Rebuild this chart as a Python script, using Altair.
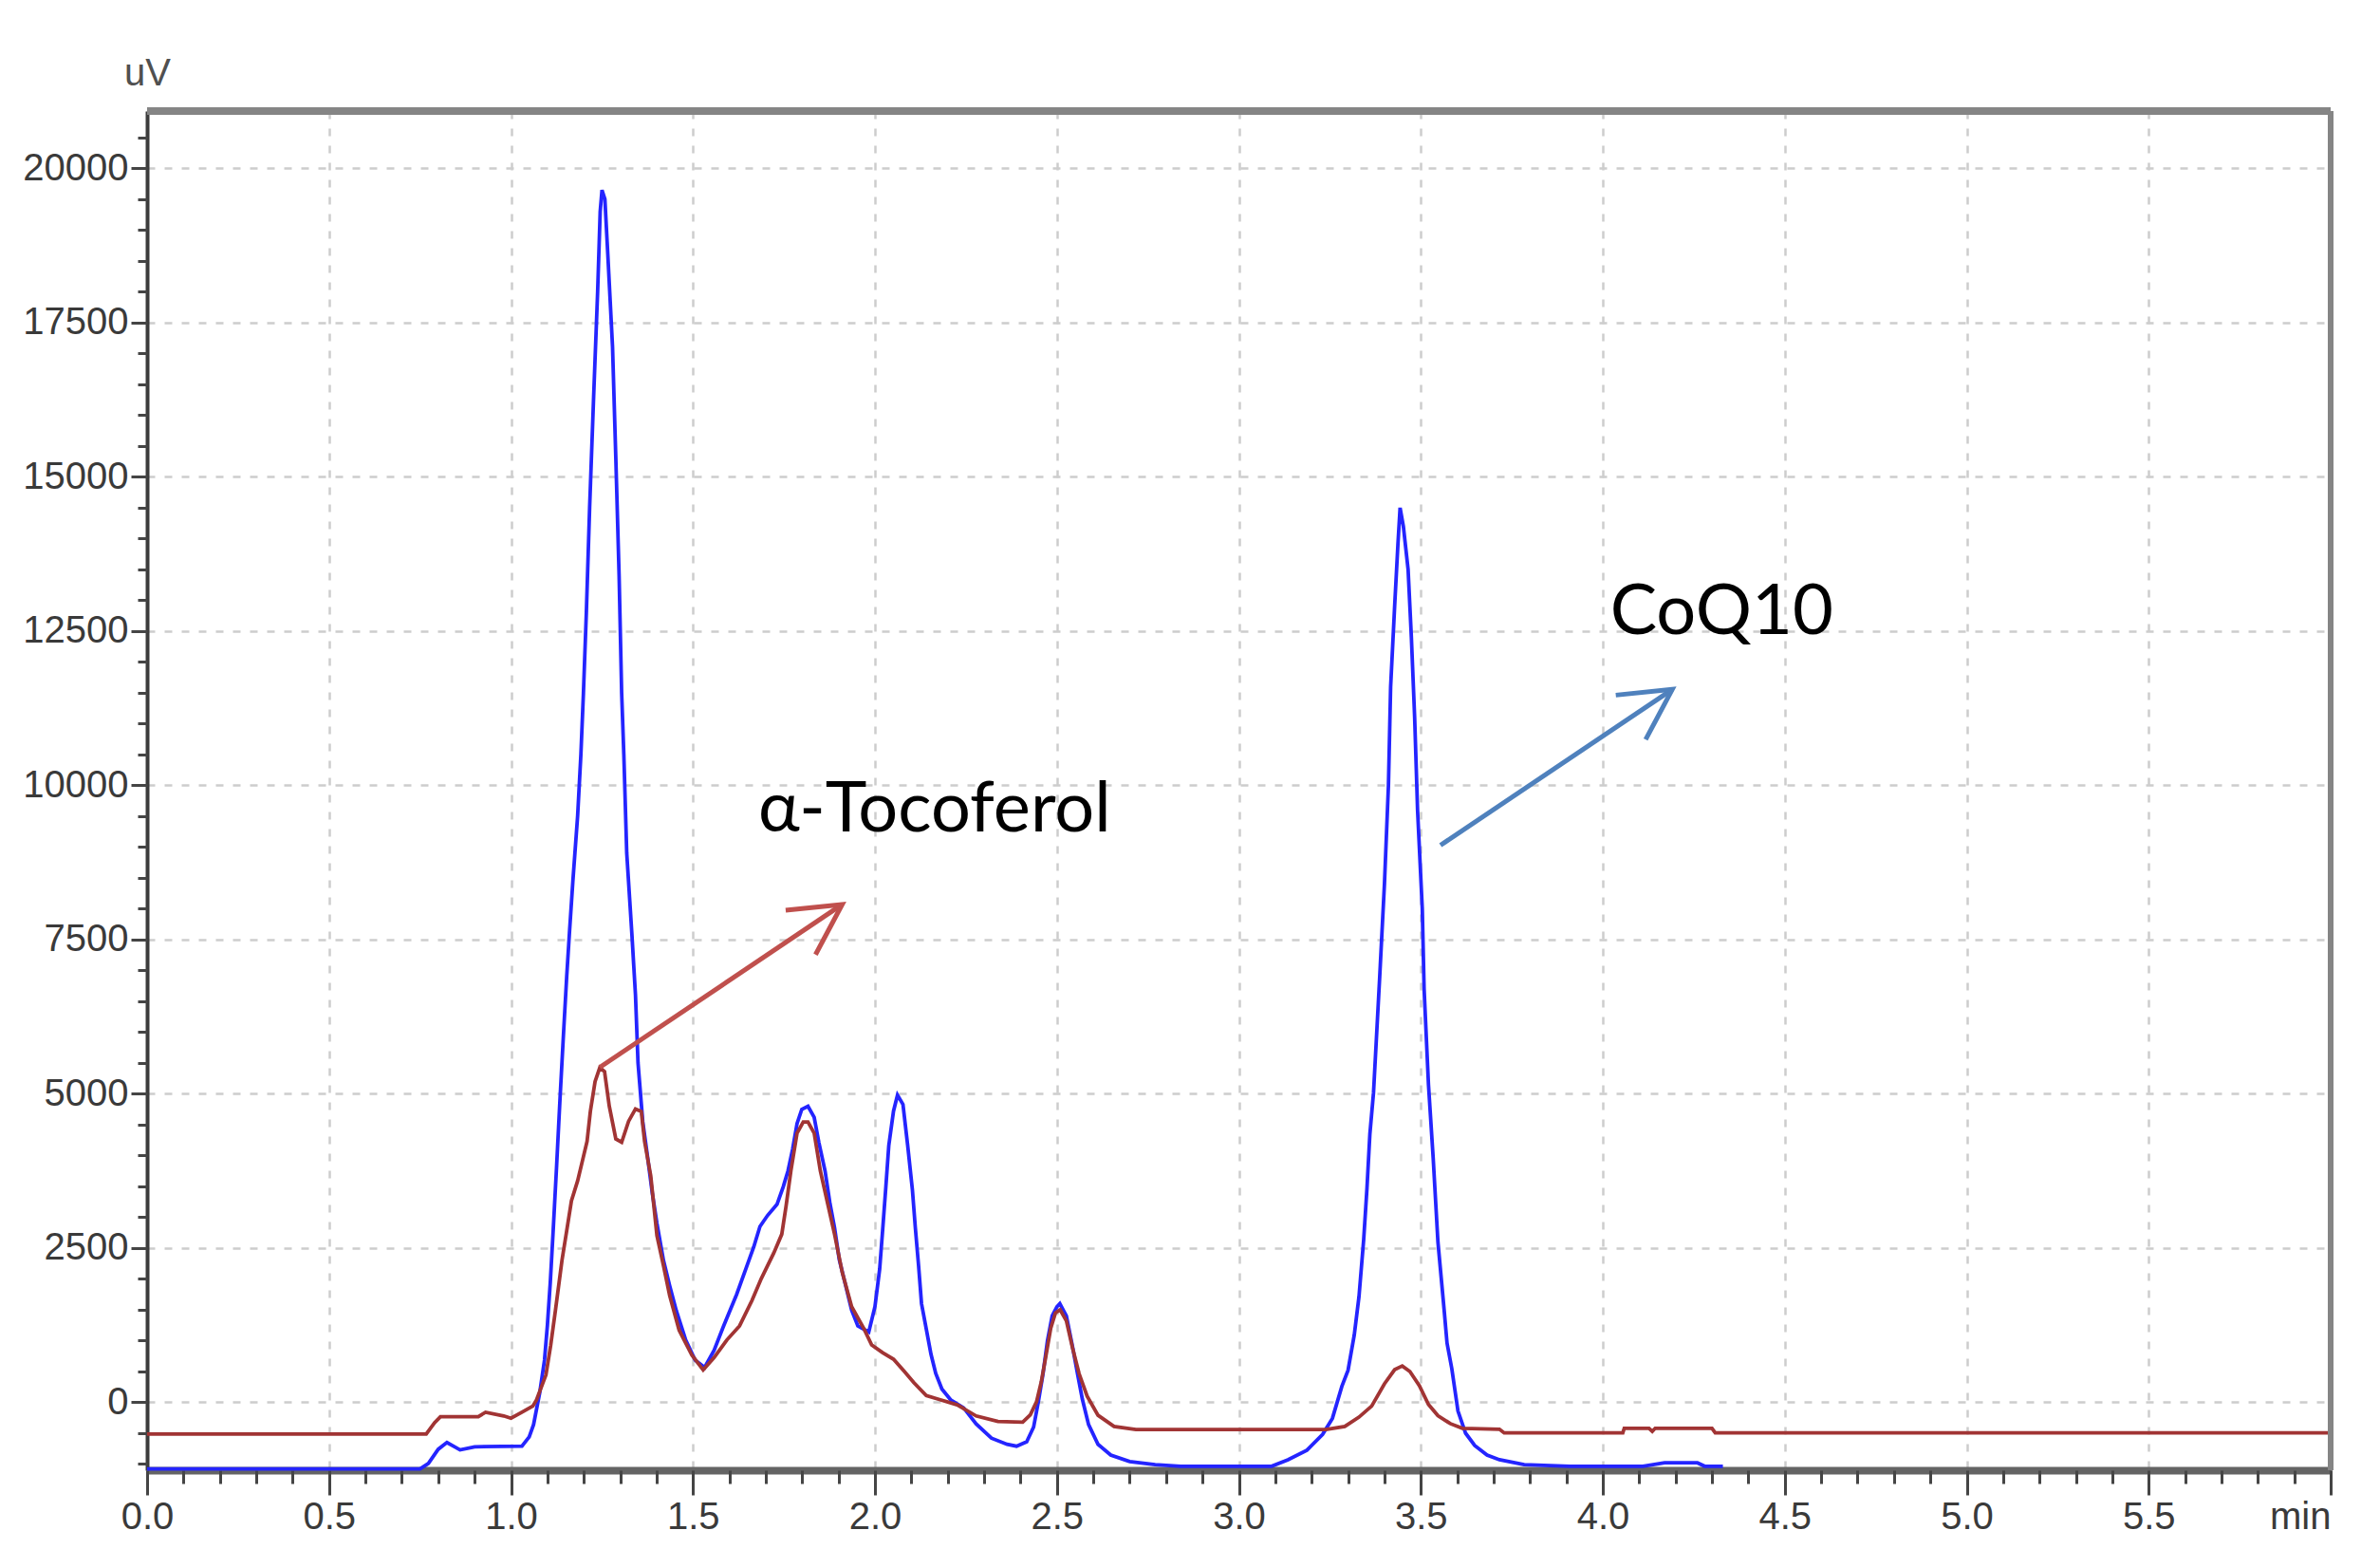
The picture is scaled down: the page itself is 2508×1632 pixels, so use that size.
import math
import altair as alt
import pandas as pd

# ---------------- data ----------------
blue_t = [0.0, 0.75, 0.773, 0.80, 0.824, 0.86, 0.90, 1.03, 1.05, 1.062, 1.079, 1.092, 1.100, 1.108,
          1.116, 1.125, 1.134, 1.144, 1.153, 1.161, 1.170, 1.183, 1.192, 1.199, 1.207, 1.216, 1.227,
          1.238, 1.245, 1.250, 1.258, 1.266, 1.279, 1.288, 1.297, 1.304, 1.310, 1.318, 1.332, 1.342,
          1.349, 1.362, 1.375, 1.388, 1.401, 1.419, 1.436, 1.454, 1.480, 1.506, 1.532, 1.558, 1.585,
          1.620, 1.645, 1.667, 1.684, 1.705, 1.731, 1.748, 1.761, 1.774, 1.786, 1.799, 1.816, 1.833,
          1.846, 1.863, 1.876, 1.889, 1.902, 1.919, 1.936, 1.953, 1.983, 2.000, 2.013, 2.021, 2.030,
          2.038, 2.051, 2.062, 2.077, 2.090, 2.103, 2.111, 2.120, 2.128, 2.141, 2.154, 2.167, 2.184,
          2.209, 2.244, 2.278, 2.320, 2.363, 2.389, 2.417, 2.436, 2.449, 2.462, 2.474, 2.487, 2.500,
          2.508, 2.526, 2.543, 2.557, 2.570, 2.587, 2.613, 2.648, 2.700, 2.770, 2.840, 3.090, 3.135,
          3.187, 3.230, 3.257, 3.283, 3.300, 3.317, 3.330, 3.343, 3.352, 3.360, 3.370, 3.387, 3.400,
          3.411, 3.417, 3.428, 3.437, 3.443, 3.452, 3.465, 3.474, 3.483, 3.491, 3.504, 3.509, 3.521,
          3.534, 3.547, 3.564, 3.572, 3.585, 3.602, 3.623, 3.648, 3.682, 3.716, 3.784, 3.910, 4.110,
          4.170, 4.260, 4.280, 4.330]
blue_v = [-1080, -1080, -990, -760, -650, -770, -720, -710, -560, -360, 160, 685, 1250, 1950,
          2800, 3800, 4850, 5950, 6900, 7650, 8450, 9500, 10500, 11500, 12800, 14500, 16300,
          18000, 19300, 19650, 19500, 18600, 17100, 15300, 13400, 11500, 10500, 8900, 7600, 6600,
          5500, 4550, 3990, 3400, 2900, 2300, 1890, 1490, 1010, 685, 565, 845, 1250,
          1750, 2160, 2520, 2850, 3030, 3210, 3495, 3750, 4110, 4520, 4750, 4800, 4620,
          4210, 3750, 3240, 2830, 2315, 1905, 1495, 1240, 1140, 1550, 2160, 2780, 3495,
          4160, 4720, 4980, 4830, 4160, 3440, 2830, 2210, 1600, 1190, 780, 470, 215,
          35, -90, -350, -580, -680, -710, -640, -400, 10, 470, 1000, 1400, 1550,
          1600, 1400, 900, 450, 50, -360, -680, -855, -960, -1010, -1035, -1035, -930,
          -775, -520, -260, 260, 520, 1090, 1710, 2640, 3470, 4350, 5020, 6900, 8400,
          10000, 11600, 12900, 13900, 14500, 14200, 13500, 12400, 11100, 9600, 8000, 6700, 5150,
          3950, 2600, 1500, 960, 550, -140, -500, -700, -855, -930, -1010, -1035, -1035,
          -980, -980, -1035, -1035]

red_t = [0.0, 0.767, 0.79, 0.806, 0.91, 0.93, 0.98, 1.00, 1.03, 1.06, 1.07, 1.096, 1.109, 1.122,
         1.140, 1.153, 1.166, 1.183, 1.196, 1.209, 1.218, 1.231, 1.244, 1.257, 1.270, 1.288, 1.304,
         1.323, 1.342, 1.358, 1.367, 1.384, 1.401, 1.419, 1.436, 1.462, 1.497, 1.528, 1.558, 1.593,
         1.628, 1.662, 1.688, 1.722, 1.744, 1.756, 1.769, 1.786, 1.803, 1.816, 1.833, 1.850, 1.889,
         1.910, 1.936, 1.970, 1.991, 2.021, 2.051, 2.081, 2.107, 2.141, 2.175, 2.226, 2.278, 2.338,
         2.406, 2.427, 2.444, 2.457, 2.470, 2.483, 2.496, 2.509, 2.526, 2.543, 2.561, 2.583, 2.613,
         2.657, 2.717, 3.239, 3.291, 3.330, 3.365, 3.400, 3.428, 3.449, 3.470, 3.496, 3.521, 3.547,
         3.581, 3.614, 3.716, 3.729, 4.055, 4.059, 4.127, 4.136, 4.144, 4.300, 4.309, 6.0]
red_v = [-515, -515, -330, -232, -232, -160, -220, -258, -160, -60, 40, 445, 925, 1490,
         2300, 2780, 3265, 3590, 3910, 4230, 4715, 5200, 5425, 5360, 4800, 4270, 4215,
         4555, 4755, 4715, 4230, 3670, 2700, 2215, 1730, 1170, 765, 525, 725, 1010,
         1240, 1650, 2010, 2420, 2725, 3190, 3750, 4365, 4545, 4545, 4365, 3750, 2725,
         2110, 1550, 1190, 930, 805, 700, 500, 320, 110, 50, -40, -220, -310,
         -320, -200, 10, 330, 760, 1200, 1450, 1500, 1320, 880, 465, 100, -210,
         -390, -440, -440, -390, -240, -60, 300, 530, 590, 500, 270, -35, -215,
         -345, -420, -435, -495, -495, -420, -420, -470, -420, -420, -495, -495]

x_major = [0.0, 0.5, 1.0, 1.5, 2.0, 2.5, 3.0, 3.5, 4.0, 4.5, 5.0, 5.5, 6.0]
x_minor = [round(i * 0.1, 1) for i in range(61)]
y_major = [0, 2500, 5000, 7500, 10000, 12500, 15000, 17500, 20000]
y_minor = [-1000 + 500 * i for i in range(44)]

labels_text = ["\u03b1-Tocoferol", "CoQ10"]
labels_t = [1.679, 4.02]
labels_v = [9260, 12449]

arrow_names = ["toco", "coq"]
arrow_t0 = [1.244, 3.554]
arrow_v0 = [5430, 9030]
arrow_t1 = [1.910, 4.191]
arrow_v1 = [8070, 11556]
arrow_colors = ["#c0504d", "#4f81bd"]

# ---------------- layout ----------------
W, H = 2301, 1432
X_DOM = [0, 6]
Y_DOM = [-1100, 20930]
xs = alt.Scale(domain=X_DOM, nice=False, zero=False)
ys = alt.Scale(domain=Y_DOM, nice=False, zero=False)

AX_FONT = "'Liberation Sans Narrow', 'Arial Narrow', 'Liberation Sans', sans-serif"
TXT_FONT = "Lato, 'Open Sans', sans-serif"

blue_df = pd.DataFrame({"t": blue_t, "v": blue_v})
red_df = pd.DataFrame({"t": red_t, "v": red_v})

major_x_axis = alt.Axis(
    orient="bottom", values=x_major, title="",
    labelExpr="datum.value >= 6 ? 'min' : format(datum.value, '.1f')",
    labelAlign={"expr": "datum.value >= 6 ? 'right' : 'center'"},
    labelFont=AX_FONT, labelFontSize=40, labelColor="#3a3a3a", labelPadding=3,
    labelFlush=False, labelOverlap=False,
    tickSize=26, tickWidth=3, tickColor="#454545",
    domainColor="#646464", domainWidth=8,
    grid=True, gridColor="#cdcdcd", gridDash=[8, 10], gridWidth=2.5,
)
major_y_axis = alt.Axis(
    orient="left", values=y_major, title="uV", format="d",
    titleAngle=0, titleX=0, titleY=-40, titleAlign="center", titleBaseline="middle",
    titleFont=AX_FONT, titleFontSize=40, titleFontWeight="normal", titleColor="#505050",
    labelFont=AX_FONT, labelFontSize=40, labelColor="#3a3a3a", labelPadding=3,
    labelFlush=False, labelOverlap=False,
    tickSize=17, tickWidth=3, tickColor="#454545",
    domainColor="#3c3c3c", domainWidth=4,
    grid=True, gridColor="#cdcdcd", gridDash=[8, 10], gridWidth=2.5,
)
minor_x_axis = alt.Axis(
    orient="bottom", values=x_minor, title="", labels=False, grid=False, domain=False,
    tickSize=14, tickWidth=3, tickColor="#454545",
)
minor_y_axis = alt.Axis(
    orient="left", values=y_minor, title="", labels=False, grid=False, domain=False,
    tickSize=10, tickWidth=3, tickColor="#454545",
)

blue_line = alt.Chart(blue_df).mark_line(color="#2424ff", strokeWidth=3.8).encode(
    x=alt.X("t:Q", scale=xs, axis=major_x_axis),
    y=alt.Y("v:Q", scale=ys, axis=major_y_axis),
    order="t:Q",
)
red_line = alt.Chart(red_df).mark_line(color="#a13434", strokeWidth=3.8).encode(
    x=alt.X("t:Q", scale=xs, axis=minor_x_axis),
    y=alt.Y("v:Q", scale=ys, axis=minor_y_axis),
    order="t:Q",
)

# frame (top and right borders)
frame_df = pd.DataFrame({"k": [0]})
top_border = alt.Chart(frame_df).mark_rule(color="#858585", strokeWidth=8).encode(
    x=alt.value(0), x2=alt.value(W), y=alt.value(0)
)
right_border = alt.Chart(frame_df).mark_rule(color="#858585", strokeWidth=6).encode(
    x=alt.value(W), y=alt.value(0), y2=alt.value(H)
)

# annotations
px_per_t = W / (X_DOM[1] - X_DOM[0])
px_per_v = H / (Y_DOM[1] - Y_DOM[0])
layers = [blue_line, red_line]
for i in range(len(arrow_names)):
    df = pd.DataFrame({"t": [arrow_t0[i]], "v": [arrow_v0[i]],
                       "t2": [arrow_t1[i]], "v2": [arrow_v1[i]]})
    shaft = alt.Chart(df).mark_rule(color=arrow_colors[i], strokeWidth=5).encode(
        x=alt.X("t:Q", scale=xs, axis=None),
        y=alt.Y("v:Q", scale=ys, axis=None),
        x2="t2:Q", y2="v2:Q",
    )
    dx = (arrow_t1[i] - arrow_t0[i]) * px_per_t
    dy = (arrow_v1[i] - arrow_v0[i]) * px_per_v
    ang = math.degrees(math.atan2(dx, dy)) % 360
    head = alt.Chart(df).mark_point(
        shape="M -0.47 0.88 L 0 0 L 0.47 0.88", size=14400, filled=False,
        color=arrow_colors[i], strokeWidth=5, opacity=1, angle=ang,
        strokeJoin="miter",
    ).encode(
        x=alt.X("t2:Q", scale=xs, axis=None),
        y=alt.Y("v2:Q", scale=ys, axis=None),
    )
    layers += [shaft, head]

text_df = pd.DataFrame({"t": labels_t, "v": labels_v, "label": labels_text})
texts = alt.Chart(text_df).mark_text(
    align="left", baseline="alphabetic", font=TXT_FONT, fontSize=74, color="#000000"
).encode(
    x=alt.X("t:Q", scale=xs, axis=None),
    y=alt.Y("v:Q", scale=ys, axis=None),
    text="label:N",
)
layers += [texts, top_border, right_border]

chart = alt.layer(*layers).resolve_axis(
    x="independent", y="independent"
).properties(
    width=W, height=H,
    autosize=alt.AutoSizeParams(type="none"),
    padding={"left": 147, "top": 109, "right": 44, "bottom": 80},
    background="white",
).configure_view(strokeWidth=0)

chart.save("out.html", embed_options={"renderer": "svg", "actions": False})
